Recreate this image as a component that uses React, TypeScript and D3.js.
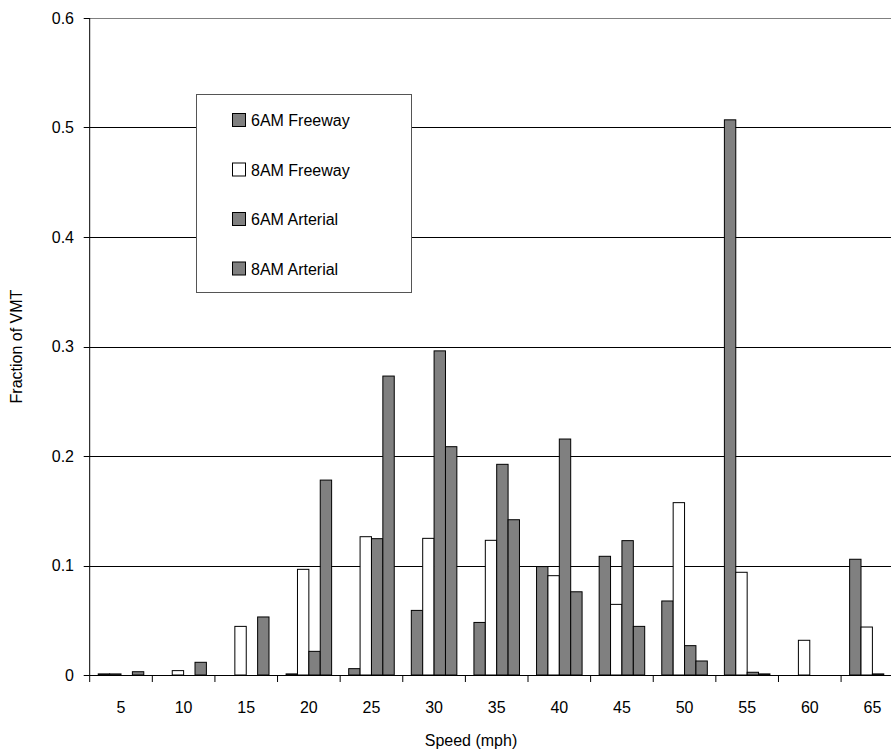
import React from "react";
import * as d3 from "d3";

const categories = ["5", "10", "15", "20", "25", "30", "35", "40", "45", "50", "55", "60", "65"];
const series = ["6AM Freeway", "8AM Freeway", "6AM Arterial", "8AM Arterial"];
const am6Freeway = [0.001, 0, 0, 0.001, 0.0058, 0.059, 0.048, 0.099, 0.1084, 0.0676, 0.507, 0, 0.1057];
const am8Freeway = [0.001, 0.004, 0.0444, 0.0965, 0.1263, 0.1248, 0.123, 0.0907, 0.0645, 0.1574, 0.0938, 0.0317, 0.0438];
const am6Arterial = [0, 0, 0, 0.0216, 0.1245, 0.296, 0.1924, 0.2155, 0.1227, 0.0268, 0.0025, 0, 0.001];
const am8Arterial = [0.003, 0.0116, 0.053, 0.178, 0.273, 0.2085, 0.1418, 0.076, 0.0444, 0.0128, 0.001, 0, 0];
const yTicks = [0, 0.1, 0.2, 0.3, 0.4, 0.5, 0.6];
const seriesValues = [am6Freeway, am8Freeway, am6Arterial, am8Arterial];
const seriesFill = ["#808080", "#ffffff", "#808080", "#808080"];

export default function App() {
  const W = 891, H = 753;
  const left = 89.7, right = 903.7, top = 18, bottom = 675;
  const font = "'Liberation Sans', Arial, sans-serif";
  const x = d3.scaleBand<string>().domain(categories).range([left, right]).paddingInner(0).paddingOuter(0);
  const y = d3.scaleLinear().domain([0, 0.6]).range([bottom, top]);
  const bw = x.bandwidth();
  const gap = bw * 1.5 / 5.5;
  const barW = bw / 5.5;

  return (
    <svg width={W} height={H} style={{ position: "absolute", left: 0, top: 0, background: "#fff" }} fontFamily={font}>
      <rect x={0} y={0} width={W} height={H} fill="#fff" />
      {yTicks.filter(t => t > 0 && t < 0.6).map(t => (
        <line key={t} x1={left} x2={W} y1={Math.round(y(t)) + 0.5} y2={Math.round(y(t)) + 0.5} stroke="#000" strokeWidth={1} />
      ))}
      <line x1={left} x2={W} y1={Math.round(y(0.6)) + 0.5} y2={Math.round(y(0.6)) + 0.5} stroke="#808080" strokeWidth={1.2} />
      {seriesValues.map((vals, si) =>
        vals.map((v, ci) => {
          const bx = (x(categories[ci]) as number) + gap / 2 + si * barW;
          return (
            <rect key={si + "-" + ci} x={bx} y={y(v)} width={barW} height={bottom - y(v)}
              fill={seriesFill[si]} stroke="#000" strokeWidth={1} />
          );
        })
      )}
      <line x1={left} x2={left} y1={top} y2={bottom} stroke="#000" strokeWidth={1} />
      <line x1={left} x2={W} y1={bottom + 0.5} y2={bottom + 0.5} stroke="#000" strokeWidth={1} />
      {yTicks.map(t => (
        <g key={t}>
          <line x1={left - 6} x2={left} y1={Math.round(y(t)) + 0.5} y2={Math.round(y(t)) + 0.5} stroke="#000" />
          <text x={74} y={y(t) + 5.5} textAnchor="end" fontSize={16} fill="#000">{t === 0 ? "0" : t.toFixed(1)}</text>
        </g>
      ))}
      {categories.map((c, i) => (
        <g key={c}>
          <line x1={(x(c) as number)} x2={(x(c) as number)} y1={bottom} y2={bottom + 7} stroke="#000" />
          <text x={(x(c) as number) + bw / 2} y={713} textAnchor="middle" fontSize={16} fill="#000">{c}</text>
        </g>
      ))}
      <text x={471} y={746} textAnchor="middle" fontSize={16} fill="#000">Speed (mph)</text>
      <text transform={`translate(22,${(top + bottom) / 2}) rotate(-90)`} textAnchor="middle" fontSize={16} fill="#000">Fraction of VMT</text>
      <rect x={196.5} y={94.5} width={215} height={198} fill="#fff" stroke="#555" strokeWidth={1} />
      {series.map((s, i) => {
        const cy = 120 + i * 49.5;
        return (
          <g key={s}>
            <rect x={232.5} y={cy - 6.5} width={13} height={13} fill={seriesFill[i]} stroke="#000" strokeWidth={1} />
            <text x={251} y={cy + 6} fontSize={16} fill="#000">{s}</text>
          </g>
        );
      })}
    </svg>
  );
}
